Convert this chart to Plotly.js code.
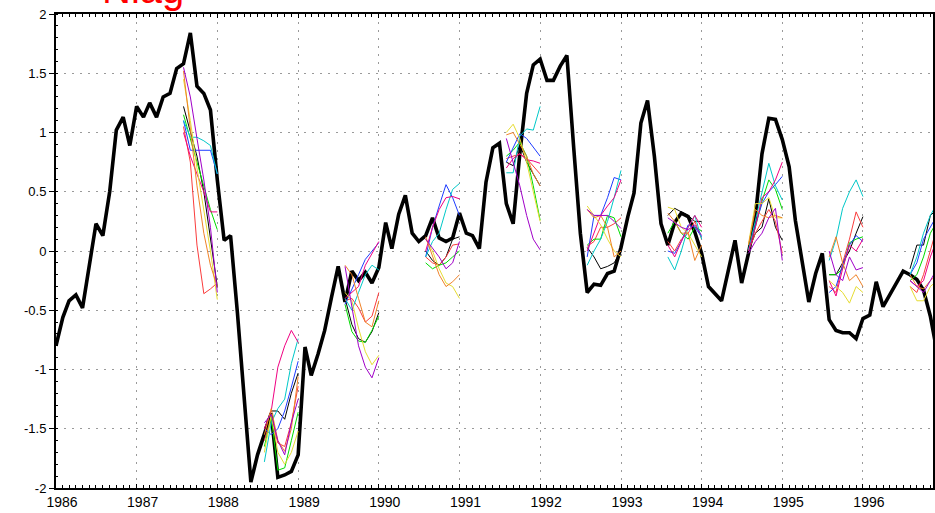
<!DOCTYPE html>
<html><head><meta charset="utf-8">
<script src="https://cdn.plot.ly/plotly-3.0.1.min.js"></script>
<style>html,body{margin:0;padding:0;background:#fff}#chart{width:935px;height:513px}</style>
</head><body><div id="chart"></div>
<script>
const startYear = 1986;
const obsValues = [
 -0.80,-0.56,-0.42,-0.37,-0.48,-0.13, 0.23, 0.13, 0.50, 1.02, 1.13, 0.89,
  1.22, 1.13, 1.25, 1.13, 1.30, 1.33, 1.54, 1.58, 1.84, 1.39, 1.33, 1.19,
  0.60, 0.09, 0.13,-0.52,-1.22,-1.95,-1.72,-1.55,-1.37,-1.91,-1.89,-1.86,
 -1.72,-0.81,-1.05,-0.87,-0.67,-0.39,-0.13,-0.43,-0.17,-0.25,-0.18,-0.27,
 -0.14, 0.24, 0.02, 0.31, 0.47, 0.15, 0.08, 0.13, 0.28, 0.11, 0.08, 0.11,
  0.32, 0.15, 0.13, 0.02, 0.58, 0.87, 0.91, 0.40, 0.23, 0.82, 1.33, 1.57,
  1.62, 1.44, 1.44, 1.56, 1.65, 0.87, 0.15,-0.35,-0.28,-0.29,-0.19,-0.17,
  0.03, 0.29, 0.49, 1.08, 1.27, 0.80, 0.23, 0.05, 0.24, 0.32, 0.29, 0.16,
 -0.02,-0.30,-0.36,-0.42,-0.17, 0.09,-0.27,-0.02, 0.29, 0.82, 1.12, 1.11,
  0.94, 0.71, 0.26,-0.08,-0.43,-0.19,-0.02,-0.58,-0.67,-0.69,-0.69,-0.74,
 -0.57,-0.54,-0.26,-0.47,-0.37,-0.27,-0.17,-0.20,-0.24,-0.33,-0.55,-0.85
];
const fcstStartMonths = [19,31,43,55,67,79,91,103,115,127];
const memberNames  = ['black','red','green','blue','cyan','magenta','yellow','orange','purple'];
const memberColors = ['#000000','#fa3c3c','#00dc00','#1e3cff','#00c8c8','#f00082','#e6dc32','#f08228','#a000c8'];

const fcst1987 = [
 [1.22,1.00,0.80,0.50,0.10,-0.30],
 [1.05,0.75,0.05,-0.36,-0.32,-0.27],
 [1.15,0.95,0.75,0.55,0.35,0.18],
 [1.10,0.85,0.85,0.85,0.85,0.65],
 [1.10,0.96,0.96,0.93,0.89,0.65],
 [1.00,0.80,0.65,0.50,0.33,0.33],
 [1.45,1.10,0.70,0.35,0.00,-0.41],
 [1.52,1.05,0.55,0.15,-0.12,-0.30],
 [1.55,1.30,0.95,0.60,0.20,-0.35]];
const fcst1988 = [
 [-1.50,-1.35,-1.35,-1.42,-1.20,-1.03],
 [-1.60,-1.40,-1.62,-1.65,-1.45,-1.14],
 [-1.65,-1.40,-1.85,-1.83,-1.60,-1.36],
 [-1.50,-1.55,-1.50,-1.35,-1.15,-0.93],
 [-1.78,-1.45,-1.33,-1.25,-0.95,-0.74],
 [-1.50,-1.35,-0.98,-0.80,-0.67,-0.77],
 [-1.70,-1.38,-1.70,-1.80,-1.70,-1.52],
 [-1.55,-1.33,-1.60,-1.69,-1.50,-1.06],
 [-1.45,-1.38,-1.60,-1.72,-1.45,-1.25]];
const fcst1989 = [
 [-0.40,-0.62,-0.74,-0.77,-0.68,-0.52],
 [-0.42,-0.40,-0.48,-0.60,-0.55,-0.35],
 [-0.45,-0.68,-0.76,-0.77,-0.67,-0.55],
 [-0.45,-0.33,-0.20,-0.07,0.00,0.07],
 [-0.40,-0.50,-0.35,-0.20,-0.12,-0.16],
 [-0.40,-0.35,-0.30,-0.12,-0.02,0.08],
 [-0.35,-0.42,-0.65,-0.85,-0.96,-0.88],
 [-0.12,-0.20,-0.40,-0.60,-0.64,-0.42],
 [-0.13,-0.48,-0.80,-0.98,-1.07,-0.90]];
const fcst1990 = [
 [0.00,-0.08,-0.12,-0.05,0.10,0.12],
 [-0.05,-0.10,-0.12,-0.05,0.05,0.06],
 [-0.10,-0.15,-0.12,-0.10,-0.05,0.00],
 [-0.05,0.20,0.38,0.56,0.45,0.30],
 [-0.05,0.08,0.15,0.35,0.52,0.57],
 [0.00,0.20,0.35,0.45,0.46,0.44],
 [0.10,0.00,-0.15,-0.27,-0.30,-0.40],
 [0.12,-0.05,-0.20,-0.30,-0.26,-0.20],
 [0.10,0.02,-0.05,-0.15,-0.10,0.08]];
const fcst1991 = [
 [0.75,0.72,0.90,0.75,0.65,0.55],
 [0.78,0.80,0.82,0.78,0.72,0.65],
 [0.80,0.85,0.92,0.80,0.55,0.26],
 [0.75,0.87,0.99,0.95,0.88,0.80],
 [0.66,0.66,0.97,1.03,1.02,1.22],
 [0.70,0.78,0.82,0.77,0.76,0.74],
 [1.00,1.07,0.95,0.75,0.50,0.25],
 [0.98,1.00,0.90,0.80,0.65,0.55],
 [0.95,0.75,0.55,0.30,0.10,0.01]];
const fcst1992 = [
 [0.03,-0.05,-0.15,-0.13,-0.10,0.00],
 [0.04,0.08,0.20,0.20,0.23,0.28],
 [0.05,0.10,0.10,0.30,0.28,0.12],
 [-0.05,0.30,0.30,0.45,0.62,0.60],
 [-0.12,0.00,0.10,0.25,0.45,0.68],
 [0.00,0.15,0.30,0.38,0.45,0.60],
 [0.38,0.30,0.22,0.10,0.00,-0.05],
 [0.35,0.28,0.30,0.20,-0.05,0.00],
 [0.35,0.30,0.30,0.30,0.25,0.19]];
const fcst1993 = [
 [0.30,0.36,0.33,0.30,0.25,0.25],
 [0.08,0.00,0.10,0.15,0.25,0.10],
 [0.15,0.25,0.15,0.10,0.20,0.17],
 [0.00,-0.02,0.08,0.22,0.20,0.12],
 [-0.05,-0.16,0.00,0.20,0.30,0.10],
 [0.05,-0.05,0.08,0.20,0.30,0.20],
 [0.37,0.35,0.20,0.15,0.05,-0.05],
 [0.32,0.25,0.15,0.15,-0.08,0.05],
 [0.28,0.24,0.20,0.18,0.22,0.13]];
const fcst1994 = [
 [0.00,0.15,0.20,0.44,0.20,0.09],
 [0.00,0.15,0.25,0.35,0.25,-0.02],
 [0.00,0.20,0.42,0.60,0.52,0.35],
 [0.00,0.22,0.40,0.50,0.56,0.63],
 [0.01,0.25,0.49,0.74,0.55,0.43],
 [0.00,0.20,0.45,0.50,0.60,0.75],
 [0.06,0.40,0.40,0.45,0.28,0.28],
 [0.05,0.35,0.30,0.28,0.30,0.28],
 [-0.02,0.08,0.15,0.28,0.36,-0.08]];
const fcst1995 = [
 [-0.20,-0.20,-0.10,0.00,0.15,0.29],
 [-0.30,-0.35,-0.10,0.10,0.33,0.20],
 [-0.20,-0.20,-0.15,0.07,0.10,0.12],
 [-0.35,-0.30,-0.12,0.05,0.13,0.08],
 [-0.08,0.10,0.36,0.50,0.60,0.46],
 [-0.25,-0.38,-0.15,0.05,0.00,0.10],
 [-0.25,-0.30,-0.35,-0.44,-0.30,-0.35],
 [-0.05,0.12,-0.10,-0.25,-0.20,-0.30],
 [0.00,-0.20,-0.25,-0.05,-0.16,-0.14]];
const fcst1996 = [
 [-0.15,0.05,0.05,0.30,0.35,0.40],
 [-0.30,-0.35,-0.20,0.00,0.20,0.30],
 [-0.25,-0.20,-0.05,0.15,0.25,0.30],
 [-0.20,-0.10,0.10,0.20,0.30,0.35],
 [-0.20,-0.05,0.15,0.30,0.40,0.45],
 [-0.25,-0.30,-0.25,-0.05,0.10,0.20],
 [-0.30,-0.42,-0.42,-0.30,-0.25,-0.20],
 [-0.20,-0.30,-0.32,-0.25,-0.20,-0.15],
 [-0.25,-0.30,-0.35,-0.25,-0.15,-0.10]];
const forecastGroups = [fcst1987,fcst1988,fcst1989,fcst1990,fcst1991,fcst1992,fcst1993,fcst1994,fcst1995,fcst1996];

const yTickVals = [-2,-1.5,-1,-0.5,0,0.5,1,1.5,2];
const yTickText = ['-2','-1.5','-1','-0.5','0','0.5','1','1.5','2'];
const xTickYears = ['1986','1987','1988','1989','1990','1991','1992','1993','1994','1995','1996'];

function monthDate(i){
  const y = startYear + Math.floor(i/12);
  const m = (i % 12) + 1;
  return y + '-' + String(m).padStart(2,'0') + '-01';
}

const traces = [];
traces.push({
  x: obsValues.map((v,i)=>monthDate(i)), y: obsValues,
  type:'scatter', mode:'lines', line:{color:'#000', width:3.6}, hoverinfo:'skip'
});
memberNames.forEach((name,k)=>{
  const xs=[], ys=[];
  forecastGroups.forEach((grp,g)=>{
    grp[k].forEach((v,j)=>{ xs.push(monthDate(fcstStartMonths[g]+j)); ys.push(v); });
    xs.push(null); ys.push(null);
  });
  traces.push({x:xs, y:ys, type:'scatter', mode:'lines', name:name,
    line:{color:memberColors[k], width:1}, connectgaps:false, hoverinfo:'skip'});
});

const layout = {
  width:935, height:513,
  margin:{l:56, r:2, t:14, b:25},
  paper_bgcolor:'#fff', plot_bgcolor:'#fff',
  showlegend:false,
  font:{family:'Liberation Sans Narrow, Liberation Sans, Arial, sans-serif', size:14, color:'#000'},
  xaxis:{
    type:'date', range:['1986-01-01','1996-11-13'],
    tickvals: xTickYears.map(y=>y+'-01-01'), ticktext: xTickYears,
    ticks:'inside', ticklen:4, tickwidth:1, tickcolor:'#000',
    ticklabelshift: 6,
    showgrid:true, gridcolor:'#9a9a9a', gridwidth:1, griddash:'2px,6px',
    showline:true, linecolor:'#000', linewidth:2, mirror:'allticks',
    minor:{dtick:'M1', ticks:'inside', ticklen:3, tickcolor:'#000', showgrid:false},
    zeroline:false, tickfont:{size:14}
  },
  yaxis:{
    range:[-2,2], tickvals:yTickVals, ticktext:yTickText,
    ticks:'outside', ticklen:5, tickwidth:1, tickcolor:'#000',
    showgrid:true, gridcolor:'#9a9a9a', gridwidth:1, griddash:'2px,6px',
    showline:true, linecolor:'#000', linewidth:2, mirror:true,
    minor:{dtick:0.1, ticks:'inside', ticklen:2, tickcolor:'#000', showgrid:false},
    zeroline:false, tickfont:{size:13}
  },
  annotations:[{
    text:'Niag', xref:'paper', yref:'paper', x:0.05, y:1.0, xanchor:'left', yanchor:'bottom',
    yshift:1, showarrow:false, font:{family:'Liberation Sans, Arial, sans-serif', size:40, color:'#ff0000'}
  }]
};
Plotly.newPlot('chart', traces, layout, {staticPlot:true, displayModeBar:false});
</script></body></html>
